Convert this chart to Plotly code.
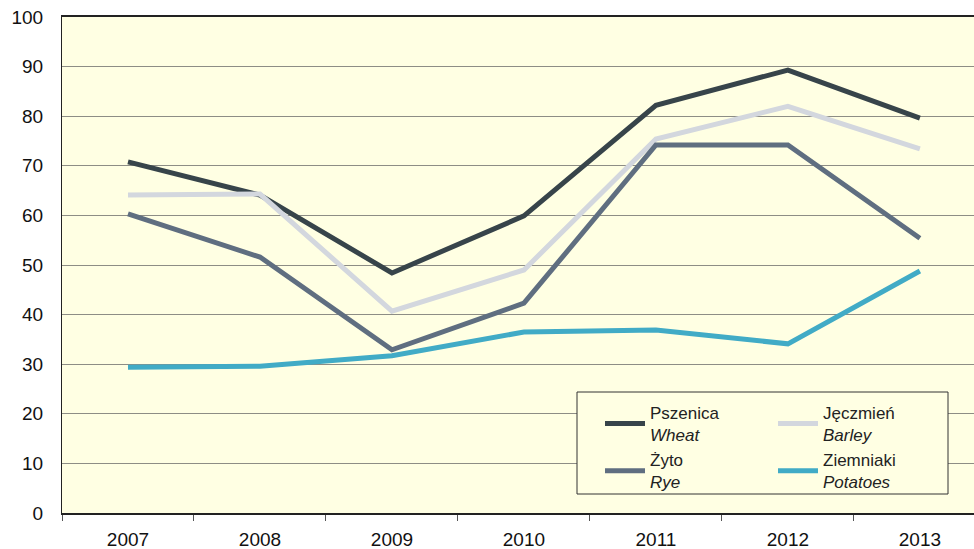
import plotly.graph_objects as go

years = ["2007", "2008", "2009", "2010", "2011", "2012", "2013"]
pszenica = [70.8, 64.1, 48.4, 59.9, 82.2, 89.3, 79.6]
jeczmien = [64.1, 64.3, 40.7, 49.0, 75.4, 82.0, 73.4]
zyto = [60.3, 51.6, 32.9, 42.3, 74.2, 74.2, 55.4]
ziemniaki = [29.4, 29.6, 31.7, 36.5, 36.9, 34.1, 48.8]

# name, values, colour, legend column
series = [
    ("Pszenica<br><i>Wheat</i>", pszenica, "#37444a", "legend"),
    ("Jęczmień<br><i>Barley</i>", jeczmien, "#d3d7de", "legend2"),
    ("Żyto<br><i>Rye</i>", zyto, "#5f6e80", "legend"),
    ("Ziemniaki<br><i>Potatoes</i>", ziemniaki, "#41abc6", "legend2"),
]

fig = go.Figure()
for name, vals, color, leg in series:
    fig.add_trace(go.Scatter(
        x=years, y=vals, mode="lines", name=name, legend=leg,
        line=dict(color=color, width=5),
    ))

bg = "#ffffe3"
W, H = 974, 549
L, R, T, B = 62, 0, 17, 36
pw, ph = W - L - R, H - T - B

def px(x):
    return (x - L) / pw

def py(y):
    return (H - B - y) / ph

leg_style = dict(
    orientation="v", xanchor="left", yanchor="top",
    bgcolor="rgba(0,0,0,0)", borderwidth=0, itemwidth=40,
    font=dict(size=17, color="#222222"), traceorder="normal",
)

fig.update_layout(
    width=W, height=H,
    margin=dict(l=L, r=R, t=T, b=B, autoexpand=False),
    paper_bgcolor="white", plot_bgcolor=bg,
    font=dict(family="Liberation Sans, Arial, sans-serif", size=19, color="#111111"),
    showlegend=True,
    legend=dict(x=px(600), y=py(395), **leg_style),
    legend2=dict(x=px(773), y=py(395), **leg_style),
    shapes=[dict(
        type="rect", xref="paper", yref="paper", layer="above",
        x0=px(577), x1=px(948), y0=py(494), y1=py(392),
        fillcolor=bg, line=dict(color="#333333", width=1),
    )],
    xaxis=dict(
        type="category", range=[-0.5, 6.41],
        showline=True, linecolor="#222222", linewidth=1.5, mirror=True,
        ticks="outside", tickson="boundaries", ticklen=6, tickcolor="#555555",
        ticklabelstandoff=8,
        showgrid=False, zeroline=False,
    ),
    yaxis=dict(
        range=[0, 100], dtick=10,
        showline=True, linecolor="#222222", linewidth=1, mirror=True,
        ticks="", ticklabelstandoff=14,
        showgrid=True, gridcolor="#8d8d85", gridwidth=1, zeroline=False,
    ),
)

fig.write_html("out.html", config={"displayModeBar": False},
               post_script="document.body.style.margin='0';")
